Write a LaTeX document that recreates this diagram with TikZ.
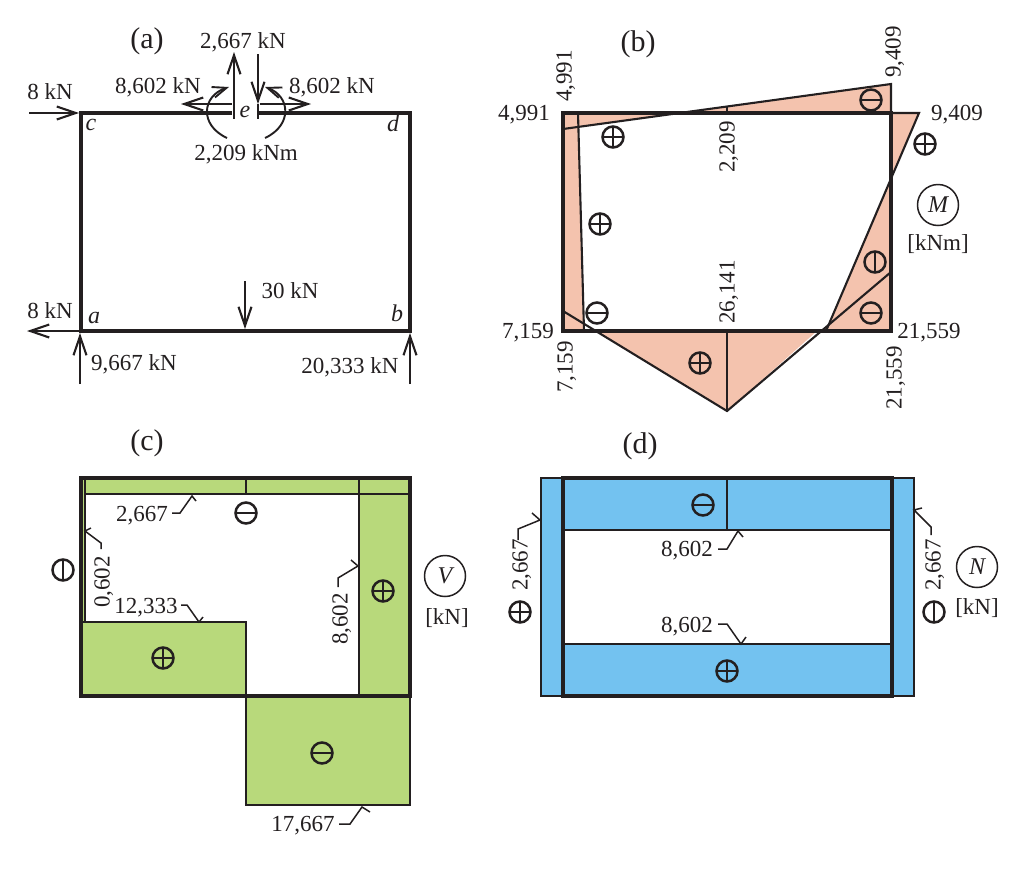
\documentclass[tikz,border=0pt]{standalone}
\usepackage{fontspec}
\setmainfont{Liberation Serif}
\usetikzlibrary{arrows.meta}
\definecolor{momfill}{HTML}{F4C3AE}
\definecolor{shearfill}{HTML}{B8D97B}
\definecolor{axialfill}{HTML}{73C2F0}
\definecolor{ink}{HTML}{231F20}
\tikzset{
  txt/.style={inner sep=0pt,text=ink,text height=15pt,text depth=0pt,font=\fontsize{23}{25}\selectfont},
  rtxt/.style={txt,rotate=90},
  ttl/.style={txt,text height=19pt,text depth=6pt,font=\fontsize{30}{32}\selectfont},
  ital/.style={txt,text height=10pt,font=\fontsize{24}{26}\selectfont\itshape},
  frame/.style={draw=ink,line width=3.4pt,line join=miter},
  thin line/.style={draw=ink,line width=2.1pt},
  leader/.style={draw=ink,line width=1.5pt},
  force/.style={draw=ink,line width=2.1pt,-{Straight Barb[length=19pt,width=13pt,line width=2.1pt]}},
  arcforce/.style={draw=ink,line width=1.9pt,-{Straight Barb[length=14pt,width=11pt,line width=1.9pt]}},
  signbase/.style={circle,draw=ink,line width=2.5pt,minimum size=21pt,inner sep=0pt},
  sgnplus/.style={signbase,path picture={\draw[ink,line width=2.3pt]
     (path picture bounding box.west)--(path picture bounding box.east)
     (path picture bounding box.north)--(path picture bounding box.south);}},
  sgnminus/.style={signbase,path picture={\draw[ink,line width=2.3pt]
     (path picture bounding box.west)--(path picture bounding box.east);}},
  sgnbar/.style={signbase,path picture={\draw[ink,line width=2.3pt]
     (path picture bounding box.north)--(path picture bounding box.south);}},
  unitc/.style={circle,draw=ink,line width=1.5pt,minimum size=41pt,inner sep=0pt,text=ink,font=\fontsize{24}{26}\selectfont\itshape},
}
\begin{document}
\begin{tikzpicture}[x=1pt,y=-1pt]
\useasboundingbox (0,0) rectangle (1024,868);
% ---------- (a)
\node[ttl] (ta) at (147,42) {(a)};
\coordinate (ac) at (81,113); \coordinate (ad) at (410,113);
\coordinate (ab) at (410,331); \coordinate (aa) at (81,331);
\coordinate (el) at (232,113); \coordinate (er) at (258,113);
\draw[frame] (el)--(ac)--(aa)--(ab)--(ad)--(er);
\draw[leader,line width=1.9pt] (234,104)--(234,119) (258,104)--(258,119);
\coordinate (f1a) at (29,113); \coordinate (f1b) at (79,113);
\draw[force] (f1a)--(f1b);
\coordinate (f2a) at (80,331); \coordinate (f2b) at (27,331);
\draw[force] (f2a)--(f2b);
\coordinate (f3a) at (80,384); \coordinate (f3b) at (80,333);
\draw[force] (f3a)--(f3b);
\coordinate (f4a) at (410,384); \coordinate (f4b) at (410,333);
\draw[force] (f4a)--(f4b);
\coordinate (f5a) at (245,281); \coordinate (f5b) at (245,329);
\draw[force] (f5a)--(f5b);
\coordinate (f6a) at (234,104); \coordinate (f6b) at (234,52);
\draw[force] (f6a)--(f6b);
\coordinate (f7a) at (258,54); \coordinate (f7b) at (258,104);
\draw[force] (f7a)--(f7b);
\coordinate (f8a) at (232,104); \coordinate (f8b) at (181,104);
\draw[force] (f8a)--(f8b);
\coordinate (f9a) at (260,104); \coordinate (f9b) at (311,104);
\draw[force] (f9a)--(f9b);
\draw[arcforce] (227,138) .. controls (199,125) and (202,96) .. (229,87);
\draw[arcforce] (265,138) .. controls (293,125) and (290,96) .. (265,87);
\node[txt] (l1) at (243,41) {2,667 kN};
\node[txt] (l2) at (158,86) {8,602 kN};
\node[txt] (l3) at (332,86) {8,602 kN};
\node[txt] (l4) at (50,92) {8 kN};
\node[txt] (l5) at (246,153) {2,209 kNm};
\node[txt] (l6) at (50,311) {8 kN};
\node[txt] (l7) at (290,291) {30 kN};
\node[txt] (l8) at (134,363) {9,667 kN};
\node[txt] (l9) at (350,366) {20,333 kN};
\node[ital] (nc) at (91,125) {c};
\node[ital] (nd) at (393,126) {d};
\node[ital] (ne) at (245,112) {e};
\node[ital] (na) at (94,318) {a};
\node[ital] (nb) at (397,316) {b};
% ---------- (b)
\node[ttl] (tb) at (638,45) {(b)};
\fill[momfill] (563,113)--(578,113)--(584,331)--(563,331)--cycle;
\fill[momfill] (563,129)--(891,84)--(891,113)--(671,113)--(578,113)--(563,113)--cycle;
\fill[momfill] (891,113)--(919,113)--(827,331)--(891,331)--cycle;
\fill[momfill] (596,331)--(817,331)--(727,411)--cycle;
\draw[thin line] (578,113)--(584,331);
\draw[thin line] (563,129)--(891,84)--(891,113);
\draw[thin line] (727,106)--(727,113);
\draw[thin line] (891,113)--(919,113)--(826,331);
\draw[thin line] (891,272)--(727,411)--(563,311);
\draw[thin line] (727,331)--(727,411);
\draw[frame] (563,113) rectangle (891,331);
\node[txt] (b1) at (524,113) {4,991};
\node[rtxt] (b2) at (564,76) {4,991};
\node[rtxt] (b3) at (893,52) {9,409};
\node[txt] (b4) at (957,113) {9,409};
\node[rtxt] (b5) at (727,147) {2,209};
\node[rtxt] (b6) at (727,292) {26,141};
\node[txt] (b7) at (528,331) {7,159};
\node[rtxt] (b8) at (565,367) {7,159};
\node[txt] (b9) at (929,331) {21,559};
\node[rtxt] (b10) at (894,378) {21,559};
\node[sgnplus] (s1) at (613,137) {};
\node[sgnplus] (s2) at (600,224) {};
\node[sgnminus] (s3) at (597,313) {};
\node[sgnplus] (s4) at (700,363) {};
\node[sgnminus] (s5) at (871,313) {};
\node[sgnbar] (s6) at (875,262) {};
\node[sgnminus] (s7) at (871,100) {};
\node[sgnplus] (s8) at (925,144) {};
\node[unitc] (um) at (938,205) {M};
\node[txt] (um2) at (938,243) {[kNm]};
% ---------- (c)
\node[ttl] (tc) at (147,444) {(c)};
\fill[shearfill] (81,478) rectangle (410,494);
\fill[shearfill] (359,478) rectangle (410,696);
\fill[shearfill] (81,478) rectangle (85,696);
\fill[shearfill] (81,622) rectangle (246,696);
\fill[shearfill] (246,696) rectangle (410,805);
\draw[thin line] (85,494)--(410,494) (246,478)--(246,494) (359,478)--(359,696);
\draw[thin line] (85,478)--(85,622) (81,622)--(246,622)--(246,696);
\draw[thin line] (246,696)--(246,805)--(410,805)--(410,696);
\draw[frame] (81,478) rectangle (410,696);
\node[txt] (c1) at (142,514) {2,667};
\node[rtxt] (c2) at (102,582) {0,602};
\node[txt] (c3) at (146,606) {12,333};
\node[rtxt] (c4) at (340,619) {8,602};
\node[txt] (c5) at (303,824) {17,667};
\draw[leader] (172,513)--(180,513)--(192,496)--(196,501);
\draw[leader] (101,549)--(101,543)--(85,531)--(91,528);
\draw[leader] (181,605)--(187,605)--(199,622)--(203,617);
\draw[leader] (338,587)--(338,578)--(358,566)--(351,560);
\draw[leader] (339,824)--(350,824)--(362,807)--(370,812);
\node[sgnminus] (s9) at (246,513) {};
\node[sgnbar] (s10) at (63,570) {};
\node[sgnplus] (s11) at (383,591) {};
\node[sgnplus] (s12) at (163,658) {};
\node[sgnminus] (s13) at (322,753) {};
\node[unitc] (uv) at (445,576) {V};
\node[txt] (uv2) at (447,617) {[kN]};
% ---------- (d)
\node[ttl] (td) at (640,447) {(d)};
\fill[axialfill] (541,478) rectangle (914,530);
\fill[axialfill] (541,644) rectangle (914,696);
\fill[axialfill] (541,478) rectangle (563,696);
\fill[axialfill] (892,478) rectangle (914,696);
\draw[thin line] (541,478) rectangle (914,696);
\draw[thin line] (563,530)--(892,530) (563,644)--(892,644) (727,478)--(727,530);
\draw[frame] (563,478) rectangle (892,696);
\node[rtxt] (d1) at (520,565) {2,667};
\node[rtxt] (d2) at (933,565) {2,667};
\node[txt] (d3) at (687,549) {8,602};
\node[txt] (d4) at (687,625) {8,602};
\draw[leader] (518,540)--(518,529)--(540,520)--(532,513);
\draw[leader] (931,535)--(931,527)--(914,510)--(922,508);
\draw[leader] (718,549)--(727,549)--(738,531)--(743,537);
\draw[leader] (718,624)--(727,624)--(741,644)--(746,637);
\node[sgnplus] (s14) at (520,612) {};
\node[sgnbar] (s15) at (934,612) {};
\node[sgnminus] (s16) at (703,505) {};
\node[sgnplus] (s17) at (727,671) {};
\node[unitc] (un) at (977,567) {N};
\node[txt] (un2) at (977,607) {[kN]};
\end{tikzpicture}
\end{document}
